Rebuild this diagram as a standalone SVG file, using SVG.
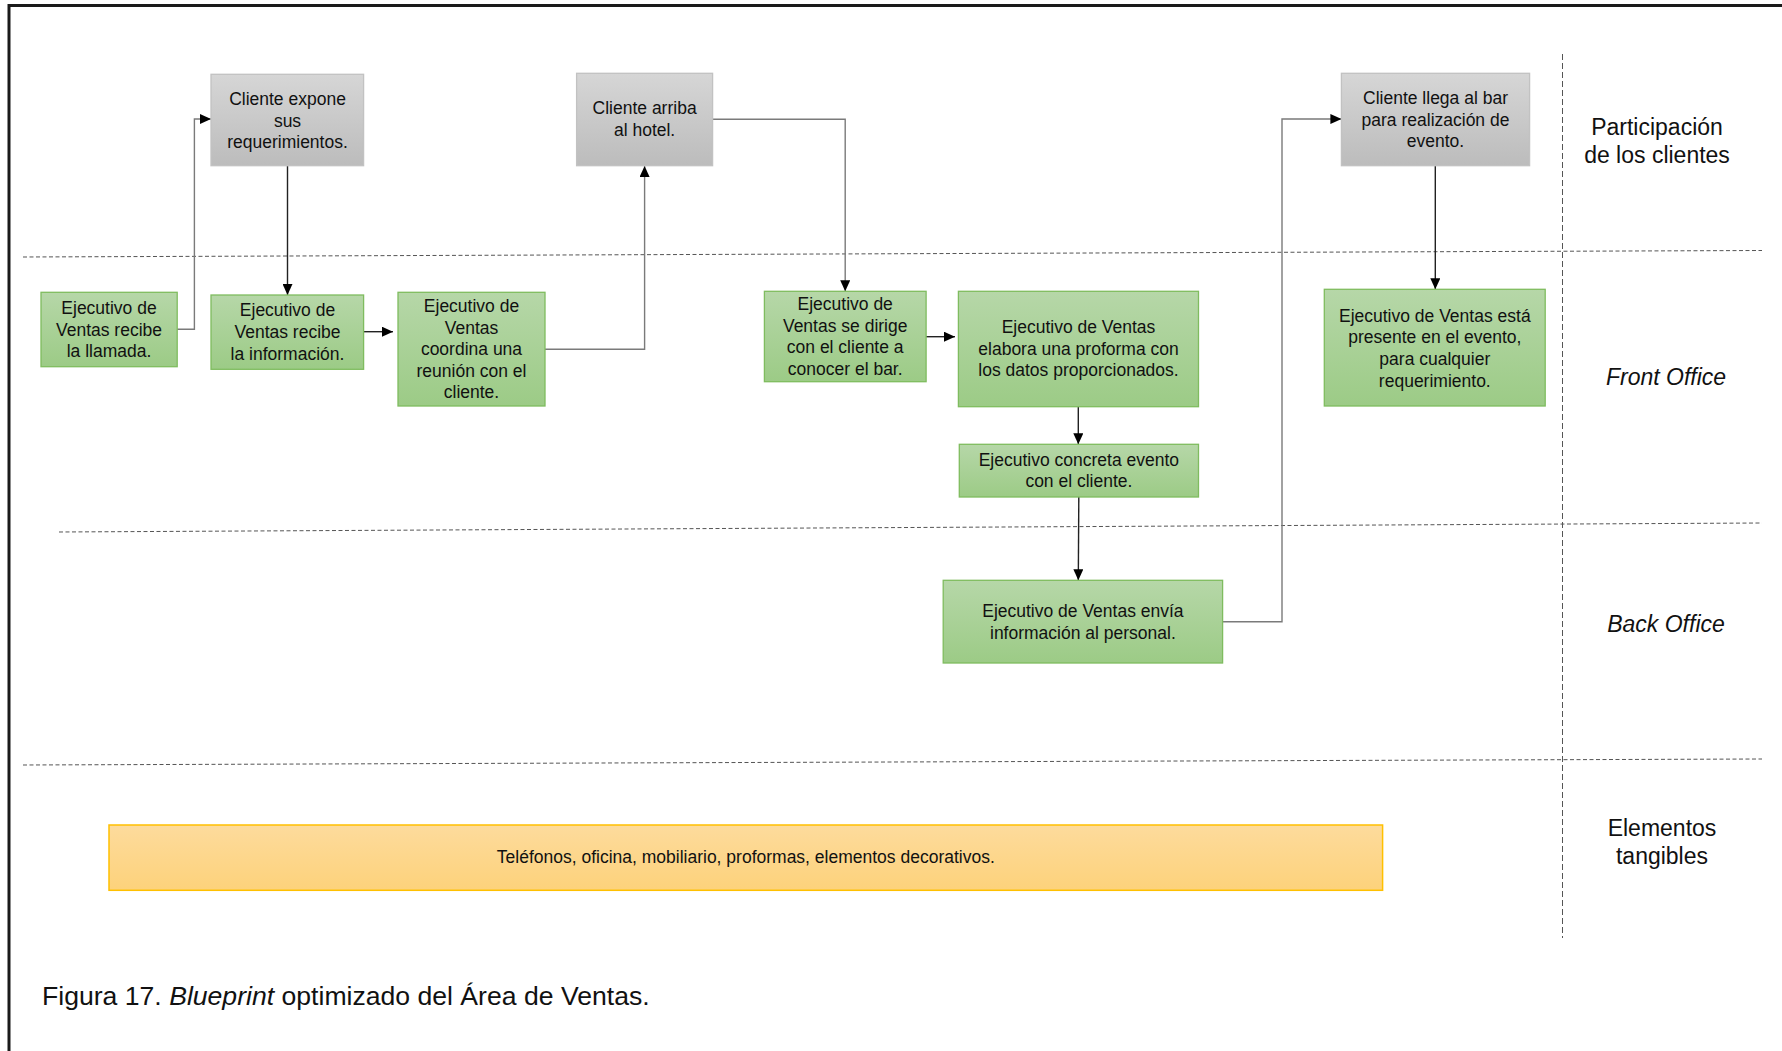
<svg xmlns="http://www.w3.org/2000/svg" width="1782" height="1051" viewBox="0 0 1782 1051">
  <style>
    .box text { font-family: "Liberation Sans", Arial, sans-serif; font-size: 17.5px; fill: #111; text-anchor: middle; }
    .gray rect { fill: url(#gGray); stroke: #c2c2c2; stroke-width: 1.3; }
    .green rect { fill: url(#gGreen); stroke: #7fbc5f; stroke-width: 1.3; }
    .yellow rect { fill: url(#gYellow); stroke: #ffc000; stroke-width: 1.5; }
    .lane { stroke: #555; stroke-width: 1; stroke-dasharray: 4 2.5; fill: none; }
    .lane-v { stroke: #555; stroke-width: 1; stroke-dasharray: 6 3; fill: none; }
    .lbl { font-family: "Liberation Sans", Arial, sans-serif; font-size: 23px; fill: #111; text-anchor: middle; }
    .it { font-style: italic; }
    .conn path { fill: none; stroke-width: 1.4; }
    .k { stroke: #222; }
    .g { stroke: #7a7a7a; }
    .cap { font-family: "Liberation Sans", Arial, sans-serif; font-size: 26.6px; fill: #111; }
  </style>
  <defs>
    <linearGradient id="gGray" x1="0" y1="0" x2="0" y2="1">
      <stop offset="0" stop-color="#d6d6d6"/>
      <stop offset="1" stop-color="#bcbcbc"/>
    </linearGradient>
    <linearGradient id="gGreen" x1="0" y1="0" x2="0" y2="1">
      <stop offset="0" stop-color="#b6d7a8"/>
      <stop offset="1" stop-color="#9ccb86"/>
    </linearGradient>
    <linearGradient id="gYellow" x1="0" y1="0" x2="0" y2="1">
      <stop offset="0" stop-color="#fddb9c"/>
      <stop offset="1" stop-color="#fdd27b"/>
    </linearGradient>
    <marker id="arr" markerUnits="userSpaceOnUse" markerWidth="11" markerHeight="10" refX="11" refY="5" orient="auto">
      <path d="M0,0 L11,5 L0,10 z" fill="#000"/>
    </marker>
  </defs>

  <rect width="1782" height="1051" fill="#fff"/>

  <!-- page frame (top and left edges) -->
  <path d="M9,1051 L9,5.5 L1782,5.5" fill="none" stroke="#1a1a1a" stroke-width="3"/>

  <!-- lane separators -->
  <g id="lanes">
    <line class="lane" x1="23" y1="257" x2="1762" y2="250.5"/>
    <line class="lane" x1="59" y1="532" x2="1762" y2="523"/>
    <line class="lane" x1="23" y1="765" x2="1762" y2="759"/>
    <line class="lane-v" x1="1562.5" y1="54" x2="1562.5" y2="938"/>
  </g>

  <!-- lane titles -->
  <g id="lane-labels">
    <text class="lbl" x="1657" y="135">Participación</text>
    <text class="lbl" x="1657" y="163">de los clientes</text>
    <text class="lbl it" x="1666" y="385">Front Office</text>
    <text class="lbl it" x="1666" y="632">Back Office</text>
    <text class="lbl" x="1662" y="836">Elementos</text>
    <text class="lbl" x="1662" y="864">tangibles</text>
  </g>

  <!-- connectors -->
  <g id="connectors" class="conn">
    <path class="g" d="M177,329.3 H194.4 V119 H211" marker-end="url(#arr)"/>
    <path class="k" d="M287.5,166 V295" marker-end="url(#arr)"/>
    <path class="k" d="M364,331.7 H393" marker-end="url(#arr)"/>
    <path class="g" d="M545,349.3 H644.6 V166" marker-end="url(#arr)"/>
    <path class="g" d="M712.6,119.3 H845.2 V291.3" marker-end="url(#arr)"/>
    <path class="k" d="M926,336.7 H955" marker-end="url(#arr)"/>
    <path class="k" d="M1078.3,406.7 V444.3" marker-end="url(#arr)"/>
    <path class="k" d="M1078.8,497 L1078.3,580.3" marker-end="url(#arr)"/>
    <path class="g" d="M1222.6,621.7 H1282 V119 H1341.4" marker-end="url(#arr)"/>
    <path class="k" d="M1435.3,165.7 V289.3" marker-end="url(#arr)"/>
  </g>

  <g id="n-recibe-llamada" class="box green">
    <rect x="41" y="292.3" width="136.2" height="74.4"/>
    <text x="109" y="314">Ejecutivo de</text>
    <text x="109" y="335.5">Ventas recibe</text>
    <text x="109" y="357">la llamada.</text>
  </g>

  <g id="n-cliente-expone" class="box gray">
    <rect x="211" y="74.3" width="152.6" height="91.4"/>
    <text x="287.5" y="104.5">Cliente expone</text>
    <text x="287.5" y="126.5">sus</text>
    <text x="287.5" y="148">requerimientos.</text>
  </g>

  <g id="n-recibe-info" class="box green">
    <rect x="211" y="295" width="152.6" height="74.3"/>
    <text x="287.5" y="316">Ejecutivo de</text>
    <text x="287.5" y="338">Ventas recibe</text>
    <text x="287.5" y="359.5">la información.</text>
  </g>

  <g id="n-coordina" class="box green">
    <rect x="398" y="292.3" width="147" height="113.7"/>
    <text x="471.5" y="311.5">Ejecutivo de</text>
    <text x="471.5" y="333.5">Ventas</text>
    <text x="471.5" y="355">coordina una</text>
    <text x="471.5" y="377">reunión con el</text>
    <text x="471.5" y="398">cliente.</text>
  </g>

  <g id="n-cliente-arriba" class="box gray">
    <rect x="576.6" y="73.3" width="136" height="92.4"/>
    <text x="644.6" y="114">Cliente arriba</text>
    <text x="644.6" y="135.5">al hotel.</text>
  </g>

  <g id="n-se-dirige" class="box green">
    <rect x="764.4" y="291.3" width="161.7" height="90.4"/>
    <text x="845.2" y="310">Ejecutivo de</text>
    <text x="845.2" y="331.5">Ventas se dirige</text>
    <text x="845.2" y="353">con el cliente a</text>
    <text x="845.2" y="375">conocer el bar.</text>
  </g>

  <g id="n-elabora" class="box green">
    <rect x="958.4" y="291.3" width="240.1" height="115.4"/>
    <text x="1078.5" y="333">Ejecutivo de Ventas</text>
    <text x="1078.5" y="355">elabora una proforma con</text>
    <text x="1078.5" y="376">los datos proporcionados.</text>
  </g>

  <g id="n-concreta" class="box green">
    <rect x="959.3" y="444.3" width="239.2" height="52.7"/>
    <text x="1078.9" y="465.5">Ejecutivo concreta evento</text>
    <text x="1078.9" y="487">con el cliente.</text>
  </g>

  <g id="n-envia" class="box green">
    <rect x="943.2" y="580.3" width="279.4" height="82.7"/>
    <text x="1082.9" y="617">Ejecutivo de Ventas envía</text>
    <text x="1082.9" y="639">información al personal.</text>
  </g>

  <g id="n-cliente-llega" class="box gray">
    <rect x="1341.4" y="73.3" width="188.2" height="92.4"/>
    <text x="1435.5" y="104">Cliente llega al bar</text>
    <text x="1435.5" y="125.5">para realización de</text>
    <text x="1435.5" y="147">evento.</text>
  </g>

  <g id="n-presente" class="box green">
    <rect x="1324.3" y="289.3" width="220.9" height="116.7"/>
    <text x="1434.8" y="321.5">Ejecutivo de Ventas está</text>
    <text x="1434.8" y="343">presente en el evento,</text>
    <text x="1434.8" y="365">para cualquier</text>
    <text x="1434.8" y="386.5">requerimiento.</text>
  </g>

  <g id="n-tangibles" class="box yellow">
    <rect x="109" y="825" width="1273.6" height="65.3"/>
    <text x="745.8" y="863" style="font-size:17.5px">Teléfonos, oficina, mobiliario, proformas, elementos decorativos.</text>
  </g>

  <text class="cap" x="42" y="1005">Figura 17. <tspan class="it">Blueprint</tspan> optimizado del Área de Ventas.</text>
</svg>
